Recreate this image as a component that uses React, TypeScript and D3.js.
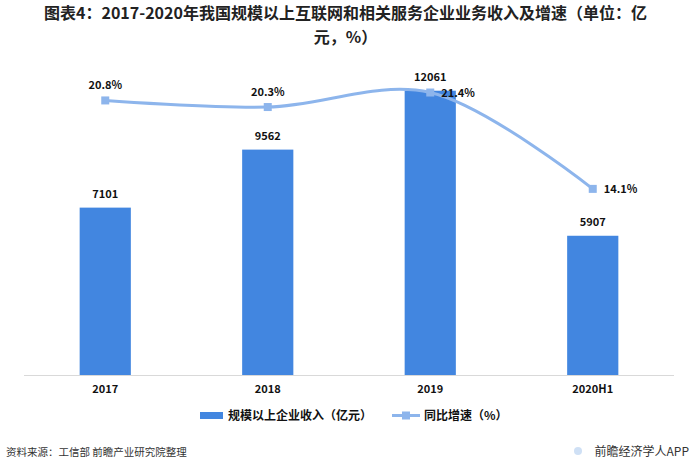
import React from "react";
import * as d3 from "d3";

const categories = ["2017", "2018", "2019", "2020H1"];
const revenue = [7101, 9562, 12061, 5907];
const growth = [20.8, 20.3, 21.4, 14.1];
const growthLabels = ["20.8%", "20.3%", "21.4%", "14.1%"];

const W = 691;
const H = 473;
const margin = { top: 45, left: 24, right: 17, bottom: 98 };
const BAR = "#4286e0";
const LINE = "#8db5ec";
const FONT = "'Noto Sans CJK SC', 'Microsoft YaHei', sans-serif";

const App = () => {
  const x = d3
    .scaleBand()
    .domain(categories)
    .range([margin.left, W - margin.right])
    .paddingInner(0.685)
    .paddingOuter(0.3425);
  const y = d3.scaleLinear().domain([0, 14000]).range([H - margin.bottom, margin.top]);
  const y2 = d3.scaleLinear().domain([0, 25]).range([H - margin.bottom, margin.top]);
  const cx = (c: string) => (x(c) as number) + x.bandwidth() / 2;

  const pts: [number, number][] = categories.map((c, i) => [cx(c), y2(growth[i])]);
  const path = d3.line().curve(d3.curveCatmullRom.alpha(0.5))(pts) || "";
  const baseY = H - margin.bottom;

  // label placement: first two above point, last two to the right
  const labelPos = (i: number) =>
    i < 2 ? { x: pts[i][0], y: pts[i][1] - 11, anchor: "middle" } : { x: pts[i][0] + 11, y: pts[i][1] + 4, anchor: "start" };

  return (
    <svg width={W} height={H} style={{ position: "absolute", left: 0, top: 0, background: "#fff" }} fontFamily={FONT}>
      <text x={W / 2} y={19} textAnchor="middle" fontSize={16} fontWeight="bold" fill="#222">
        图表4：2017-2020年我国规模以上互联网和相关服务企业业务收入及增速（单位：亿
      </text>
      <text x={W / 2} y={42.5} textAnchor="middle" fontSize={16} fontWeight="bold" fill="#222">
        元，%）
      </text>

      {categories.map((c, i) => (
        <rect key={c} x={x(c)} y={y(revenue[i])} width={x.bandwidth()} height={baseY - y(revenue[i])} fill={BAR} />
      ))}
      <line x1={margin.left} x2={W - margin.right} y1={baseY + 0.5} y2={baseY + 0.5} stroke="#d9d9d9" strokeWidth={1} />
      {categories.map((c) => (
        <text key={c} x={cx(c)} y={393} textAnchor="middle" fontSize={11} fontWeight="bold" fill="#111">
          {c}
        </text>
      ))}
      {categories.map((c, i) => (
        <text key={c} x={cx(c)} y={y(revenue[i]) - 10} textAnchor="middle" fontSize={11} fontWeight="bold" fill="#111">
          {revenue[i]}
        </text>
      ))}

      <path d={path} fill="none" stroke={LINE} strokeWidth={3} />
      {pts.map((p, i) => (
        <rect key={i} x={p[0] - 4} y={p[1] - 4} width={8} height={8} fill={LINE} />
      ))}
      {pts.map((p, i) => {
        const l = labelPos(i);
        return (
          <text key={i} x={l.x} y={l.y} textAnchor={l.anchor} fontSize={11} fontWeight="bold" fill="#111">
            {growthLabels[i]}
          </text>
        );
      })}

      <g>
        <rect x={200} y={412} width={23} height={7} fill={BAR} />
        <text x={228} y={420} fontSize={12} fontWeight="bold" fill="#111">
          规模以上企业收入（亿元）
        </text>
        <line x1={392} x2={420} y1={415.5} y2={415.5} stroke={LINE} strokeWidth={3} />
        <rect x={402} y={411.5} width={8} height={8} fill={LINE} />
        <text x={424} y={420} fontSize={12} fontWeight="bold" fill="#111">
          同比增速（%）
        </text>
      </g>

      <text x={6} y={456} fontSize={10.5} fill="#333">
        资料来源：工信部 前瞻产业研究院整理
      </text>
      <circle cx={578} cy={451} r={4} fill="#cfe0f5" />
      <text x={689} y={456} textAnchor="end" fontSize={12} fill="#333">
        前瞻经济学人APP
      </text>
    </svg>
  );
};

export default App;
